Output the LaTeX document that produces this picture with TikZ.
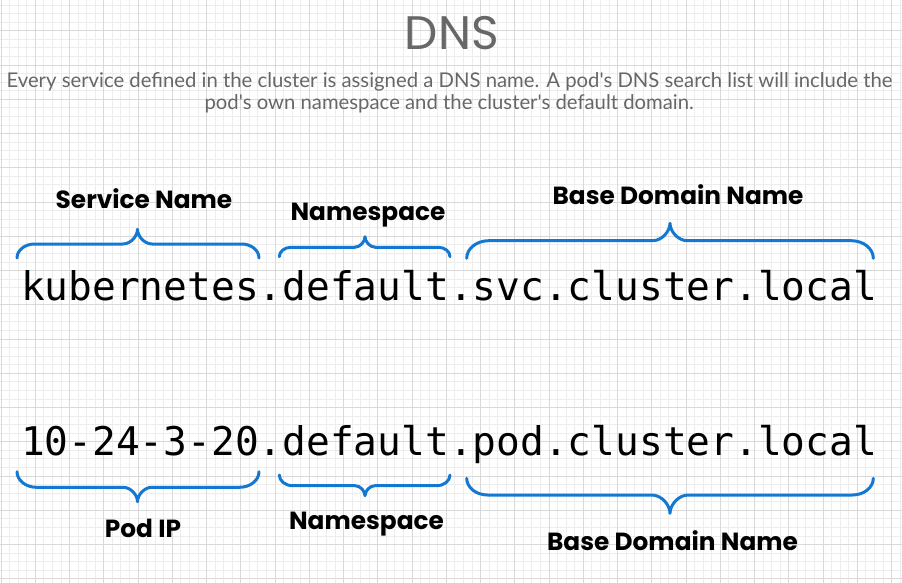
\documentclass[tikz,border=0pt]{standalone}
\usepackage{fontspec}
\setmainfont{Poppins}
\newfontfamily\subfont{Lato}
\newfontfamily\monofont{DejaVu Sans Mono}
\usetikzlibrary{calc}
\definecolor{gridminor}{HTML}{EDEDED}
\definecolor{gridmajor}{HTML}{D9D9D9}
\definecolor{bracecol}{HTML}{1478D2}
\definecolor{titlegray}{HTML}{676767}
\tikzset{%
  partname/.style={font=\bfseries\fontsize{24.8}{25}\selectfont, inner sep=0pt, anchor=base},
  dnsname/.style={font=\monofont\fontsize{39.5}{40}\selectfont, inner sep=0pt, anchor=base west},
  subline/.style={font=\subfont\fontsize{20.3}{20}\selectfont, text=titlegray, inner sep=0pt, anchor=base},
  curly/.style={draw=bracecol, line width=3pt, line cap=round, line join=round},
}

\begin{document}
\begin{tikzpicture}[x=1pt, y=-1pt]
    \useasboundingbox (0,0) rectangle (902,583);
    \fill[white] (0,0) rectangle (902,583);

    %background grid
    \begin{scope}[shift={(1,-3.5)}]
      \draw[gridminor, line width=0.8pt, step=8.5625pt] (-2,2) grid (904,590);
      \draw[gridmajor, line width=0.8pt, step=34.25pt] (-2,2) grid (904,590);
    \end{scope}

    % heading
    \node[font=\fontsize{47}{47}\selectfont, text=titlegray, anchor=base, inner sep=0pt] (title) at (451.7,49.3) {DNS};
    \node[subline] (subone) at (449.5,87.3) {Every service defined in the cluster is assigned a DNS name. A pod's DNS search list will include the};
    \node[subline] (subtwo) at (449.2,110) {pod's own namespace and the cluster's default domain.};

    % the two names
    \node[dnsname] (svcname) at (20.8,300.7) {kubernetes.default.svc.cluster.local};
    \node[dnsname] (podname) at (20.8,455) {10-24-3-20.default.pod.cluster.local};

    % braces: left, tip, right, end y, line y, tip y
    \foreach \xa/\xm/\xb/\ye/\yl/\yt in {17/137.5/259/258/244/229.3,
                                          279.3/365/450/256.7/247.3/236.7,
                                          466.7/670/873.3/258.3/240.7/223.3,
                                          17/137.5/259/471.7/487.3/501.7,
                                          279.3/365/450/475/485.7/495.7,
                                          466.7/670/873.3/478.3/495/513.3}{
      \pgfmathsetmacro{\rx}{1.25*abs(\yl-\ye)}
      \pgfmathsetmacro{\tx}{abs(\yt-\yl)}
      \draw[curly] (\xa,\ye) .. controls (\xa,{\ye+0.552*(\yl-\ye)}) and ({\xa+0.448*\rx},\yl) .. ({\xa+\rx},\yl)
        -- ({\xm-\tx},\yl) .. controls ({\xm-0.448*\tx},\yl) and (\xm,{\yt+0.448*(\yl-\yt)}) .. (\xm,\yt)
        .. controls (\xm,{\yt+0.448*(\yl-\yt)}) and ({\xm+0.448*\tx},\yl) .. ({\xm+\tx},\yl)
        -- ({\xb-\rx},\yl) .. controls ({\xb-0.448*\rx},\yl) and (\xb,{\ye+0.552*(\yl-\ye)}) .. (\xb,\ye);
    }

    % part labels
    \node[partname] (svcpart) at (144,208.3) {Service Name};
    \node[partname] (nspart) at (368,220) {Namespace};
    \node[partname] (basepart) at (678,204) {Base Domain Name};
    \node[partname] (ippart) at (143,537.7) {Pod IP};
    \node[partname] (podnspart) at (366.5,529) {Namespace};
    \node[partname] (podbasepart) at (672.5,550.7) {Base Domain Name};
\end{tikzpicture}
\end{document}
